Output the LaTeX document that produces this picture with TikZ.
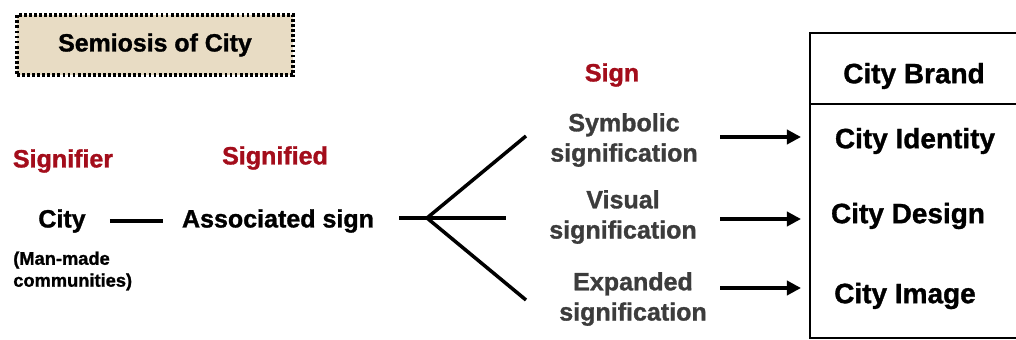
\documentclass[tikz,border=0pt]{standalone}
\usepackage{fontspec}
\setmainfont{Liberation Sans}[BoldFeatures={FakeBold=1.2}]
\usetikzlibrary{arrows.meta,positioning}
\definecolor{sigred}{HTML}{A30D1B}
\definecolor{signgray}{HTML}{3C3C3C}
\definecolor{beige}{HTML}{E8DCC4}

\begin{document}
\begin{tikzpicture}[x=0.025cm,y=-0.025cm,
  txt/.style={font=\fontsize{17.8}{21.5}\selectfont\bfseries,inner sep=0pt,align=center},
  redlbl/.style={txt,text=sigred},
  graytxt/.style={txt,text=signgray},
  smalltxt/.style={font=\fontsize{13}{15.6}\selectfont\bfseries,inner sep=0pt,align=left},
  boxtxt/.style={font=\fontsize{19.9}{22}\selectfont\bfseries,inner sep=0pt},
  titlebox/.style={draw,fill=beige,line width=2.2pt,dash pattern=on 2pt off 1.6pt,
    minimum width=6.9cm,minimum height=1.5cm,font=\fontsize{17.7}{20}\selectfont\bfseries},
  link/.style={line width=2.5pt},
  arr/.style={line width=3pt,-{Triangle[length=10pt,width=10pt]}},
  boxline/.style={line width=1.7pt}]
\useasboundingbox (0,0) rectangle (1016,340);
% heading
\node[titlebox] (title) at (155,45) {Semiosis of City};
% column labels
\node[redlbl] (signifier) at (63,161) {Signifier};
\node[redlbl] (signified) at (275,158) {Signified};
\node[redlbl] (sign) at (612,75) {Sign};
% signifier and signified
\node[txt] (city) at (62,221) {City};
\node[smalltxt,anchor=west] (manmade) at (13,271) {(Man-made\\communities)};
\node[txt] (assoc) at (278,221) {Associated sign};
\draw[link,shorten <=17pt,shorten >=13.5pt] (city) -- (assoc);
% fork
\coordinate (stemL) at (399,218);
\coordinate (fork) at (427,218);
\coordinate (stemR) at (506,218);
\coordinate (upTip) at (526,136);
\coordinate (lowTip) at (526,300);
\draw[link] (stemL) -- (stemR);
\draw[link] (upTip) -- (fork) -- (lowTip);
% signs
\node[graytxt] (symbolic) at (624,140) {Symbolic\\signification};
\node[graytxt] (visual) at (623,217) {Visual\\signification};
\node[graytxt] (expanded) at (633,299) {Expanded\\signification};
\foreach \n/\y in {symbolic/137,visual/219,expanded/288}{
  \coordinate (\n-out) at (720,\y);
  \coordinate (\n-in) at (801,\y);
  \draw[arr] (\n-out) -- (\n-in);
}
% city brand box
\coordinate (boxNE) at (1016,33);
\coordinate (boxNW) at (810,33);
\coordinate (boxSW) at (810,338);
\coordinate (boxSE) at (1016,338);
\coordinate (divW) at (810,104);
\coordinate (divE) at (1016,104);
\draw[boxline] (boxNE) -- (boxNW) -- (boxSW) -- (boxSE);
\draw[boxline] (divW) -- (divE);
\node[boxtxt] (brand) at (914,76) {City Brand};
\node[boxtxt] (identity) at (915,141) {City Identity};
\node[boxtxt] (design) at (908,216) {City Design};
\node[boxtxt] (image) at (905,296) {City Image};
\end{tikzpicture}
\end{document}
